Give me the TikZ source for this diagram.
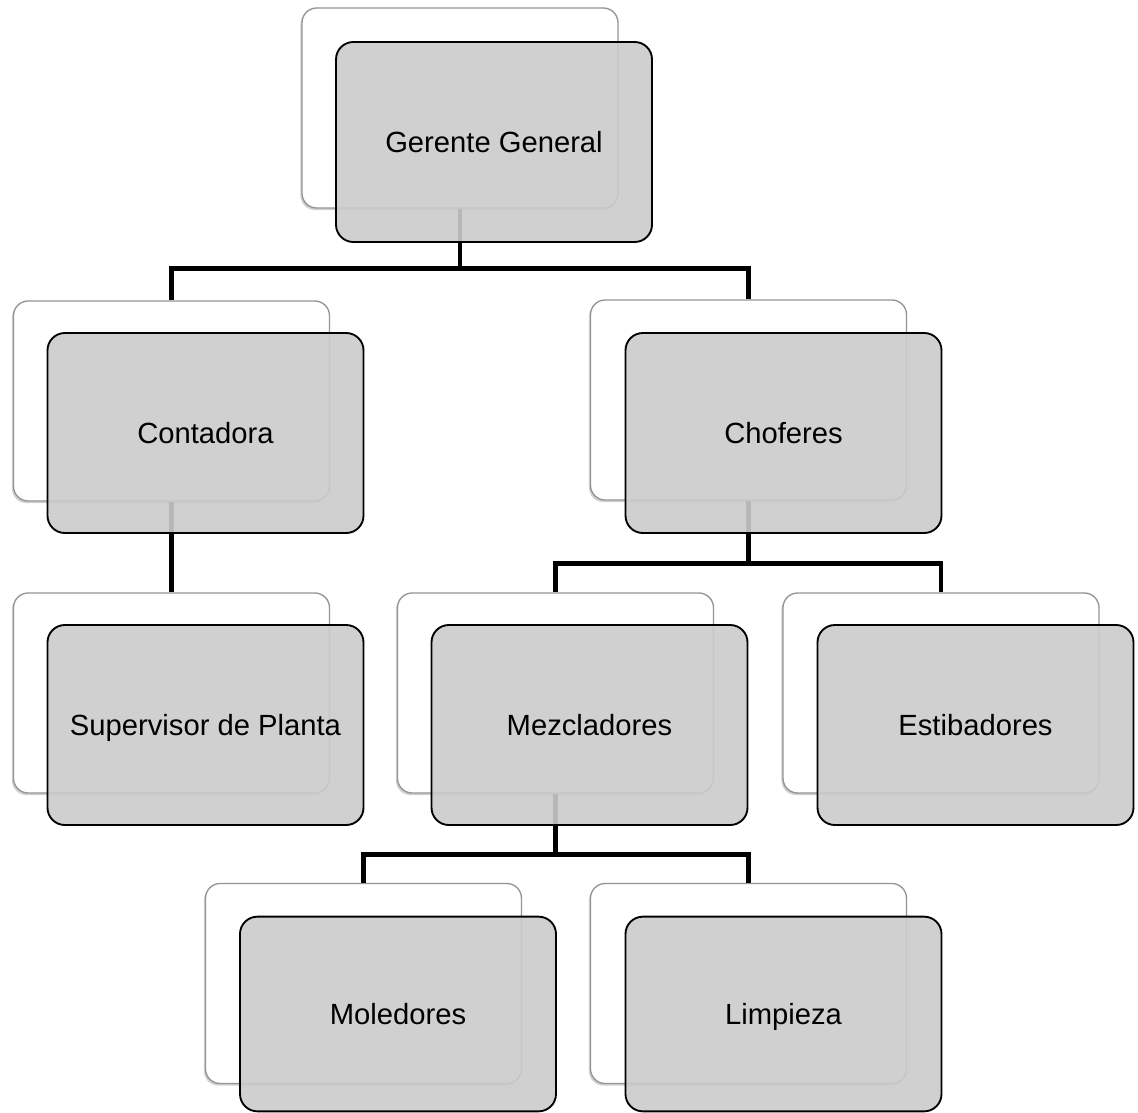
\documentclass[tikz,border=0pt]{standalone}
\usepackage{fontspec}
\setmainfont{Liberation Sans}
\usetikzlibrary{shadows}
\begin{document}
\begin{tikzpicture}[x={(0.75pt,0)},y={(0,-0.75pt)},
  backbox/.style={draw=black!42, line width=1pt, fill=white, rounded corners=11pt,
    minimum width=237pt, minimum height=150pt, inner sep=0pt,
    drop shadow={shadow xshift=-1.2pt, shadow yshift=-1.6pt, opacity=0.3, fill=black!60}},
  frontbox/.style={draw=black, line width=1.4pt, fill={rgb,255:red,203;green,203;blue,203},
    fill opacity=0.9, text opacity=1, rounded corners=13pt,
    minimum width=237pt, minimum height=150pt, inner sep=0pt,
    text height=15.6pt, text depth=0pt,
    font=\fontsize{21.9}{26}\selectfont},
  conn/.style={draw=black, line width=3.4pt}
]
\useasboundingbox (0,0) rectangle (1138,1113);
% back boxes
\node[backbox] (gg-b) at (460,108) {};
\node[backbox] (co-b) at (171.5,401) {};
\node[backbox] (ch-b) at (748.5,400) {};
\node[backbox] (su-b) at (171.5,693) {};
\node[backbox] (me-b) at (555.5,693) {};
\node[backbox] (es-b) at (941,693) {};
\node[backbox] (mo-b) at (363.5,983.5) {};
\node[backbox] (li-b) at (748.5,983.5) {};
% connectors
\draw[conn] (gg-b.south) -- ++(0,60) coordinate (gbar) -| (co-b.north);
\draw[conn] (gbar) -| (ch-b.north);
\draw[conn] (co-b.south) -- (su-b.north);
\draw[conn] (ch-b.south) -- ++(0,63) coordinate (cbar) -| (me-b.north);
\draw[conn] (cbar) -| (es-b.north);
\draw[conn] (me-b.south) -- ++(0,61) coordinate (mbar) -| (mo-b.north);
\draw[conn] (mbar) -| (li-b.north);
% front boxes
\node[frontbox] (gg) at (494,142) {Gerente General};
\node[frontbox] (co) at (205.5,433) {Contadora};
\node[frontbox] (ch) at (783.5,433) {Choferes};
\node[frontbox] (su) at (205.5,725) {Supervisor de Planta};
\node[frontbox] (me) at (589.5,725) {Mezcladores};
\node[frontbox] (es) at (975.5,725) {Estibadores};
\node[frontbox, minimum height=146pt] (mo) at (398,1014) {Moledores};
\node[frontbox, minimum height=146pt] (li) at (783.5,1014) {Limpieza};
\end{tikzpicture}
\end{document}
